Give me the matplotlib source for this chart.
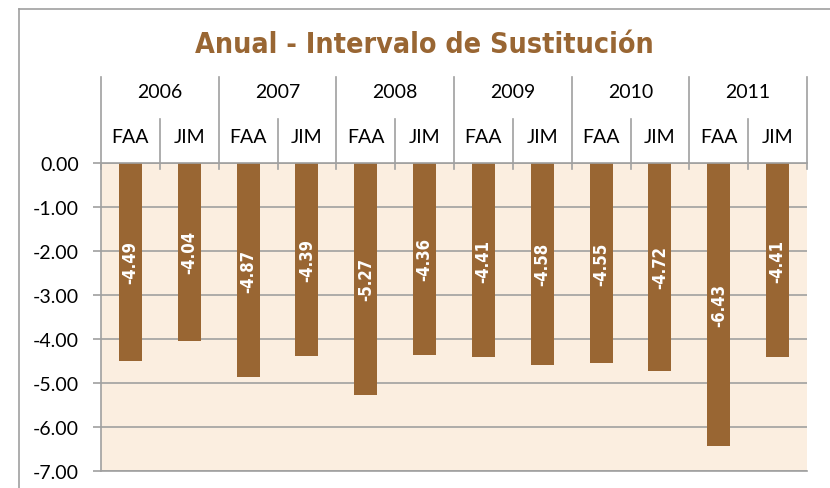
import matplotlib.pyplot as plt
from matplotlib.lines import Line2D

years = ['2006', '2007', '2008', '2009', '2010', '2011']
groups = ['FAA', 'JIM']
values = [-4.49, -4.04, -4.87, -4.39, -5.27, -4.36,
          -4.41, -4.58, -4.55, -4.72, -6.43, -4.41]

brown = '#996633'
bg = '#FBEEE0'
gray = '#A0A0A0'
body = ['Lato', 'DejaVu Sans']

fig = plt.figure(figsize=(8.3, 4.89), dpi=100)
ax = fig.add_axes([101 / 830, 17 / 489, 706 / 830, 308 / 489])
ax.set_facecolor(bg)

x = [i + 0.5 for i in range(len(values))]
ax.bar(x, values, width=0.39, color=brown, zorder=3)
for xi, v in zip(x, values):
    ax.text(xi, v / 2, f'{v:.2f}', rotation=90, ha='center', va='center',
            color='white', fontsize=12, fontweight='bold', family='DejaVu Sans',
            fontstretch='condensed', zorder=4)

ax.set_xlim(0, len(values))
ax.set_ylim(-7, 0)
ax.set_yticks(range(-7, 1))
ax.set_yticklabels([f'{t:.2f}' for t in range(-7, 1)], family=body, fontsize=14)
ax.set_xticks([])
ax.yaxis.grid(True, color=gray, lw=1.2, zorder=1)
ax.set_axisbelow(True)
ax.tick_params(axis='y', length=6, color=gray, width=1.2, pad=10)
for s in ['top', 'right']:
    ax.spines[s].set_visible(False)
ax.spines['left'].set_color(gray)
ax.spines['bottom'].set_color(gray)
ax.spines['left'].set_linewidth(1.2)
ax.spines['bottom'].set_linewidth(1.2)

# category header above the zero line (units of the y axis: 44 px per unit)
ax.plot([0, len(values)], [0, 0], color=gray, lw=1.2, clip_on=False, zorder=5)
for k in range(len(values) + 1):
    top = 1.95 if k % 2 == 0 else 1.0
    ax.plot([k, k], [-0.14, top], color=gray, lw=1.2, clip_on=False, zorder=5)
for i, xi in enumerate(x):
    ax.text(xi, 0.61, groups[i % 2], ha='center', va='center',
            fontsize=14, family=body, clip_on=False)
for j, yr in enumerate(years):
    ax.text(2 * j + 1, 1.62, yr, ha='center', va='center',
            fontsize=14, family=body, clip_on=False)

fig.text(424 / 830, 1 - 45 / 489, 'Anual - Intervalo de Sustitución', ha='center', va='center',
         color=brown, fontsize=20.5, fontweight='bold', family='DejaVu Sans',
         fontstretch='condensed')

# chart area border (cut at right and bottom)
fig.add_artist(Line2D([19 / 830, 1], [1 - 10 / 489] * 2, color=gray, lw=1.2))
fig.add_artist(Line2D([19 / 830] * 2, [0, 1 - 10 / 489], color=gray, lw=1.2))

fig.savefig('out.png', dpi=100)
